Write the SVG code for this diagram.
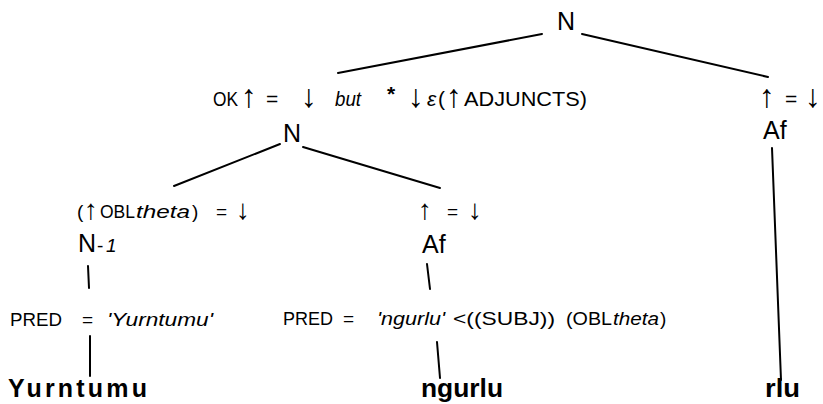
<svg xmlns="http://www.w3.org/2000/svg" width="823" height="404" viewBox="0 0 823 404">
<style>
text{font-family:"Liberation Sans",Arial,Helvetica,sans-serif;fill:#000}
.lab{font-size:21px}
.arr{font-size:32px}
.arr2{font-size:28px}
.node{font-size:25px}
.pred{font-size:19px}
.word{font-size:25px;font-weight:bold}
.it{font-style:italic}
.edge{stroke:#000;stroke-width:2;fill:none;stroke-linecap:round}
</style>
<rect width="823" height="404" fill="#fff"/>
<g id="connectors" class="edge">
<line x1="542" y1="34" x2="338" y2="73"/>
<line x1="582" y1="34" x2="768" y2="77"/>
<line x1="280" y1="144" x2="174" y2="186"/>
<line x1="303" y1="147" x2="440" y2="188"/>
<line x1="88" y1="266" x2="89" y2="288"/>
<line x1="427" y1="264" x2="430" y2="289"/>
<line x1="90" y1="336" x2="90" y2="376"/>
<line x1="437" y1="342" x2="440" y2="378"/>
<line x1="772" y1="148" x2="781" y2="380"/>
</g>
<g id="node-root">
<text class="node" x="566" y="30" text-anchor="middle">N</text>
</g>
<g id="node-adjunct-N">
<text class="lab" x="213" y="106" textLength="25" lengthAdjust="spacingAndGlyphs">OK</text>
<text class="arr" x="241" y="107">↑</text>
<text class="lab" x="266" y="106">=</text>
<text class="arr" x="301" y="107">↓</text>
<text class="lab it" x="335" y="106" textLength="26" lengthAdjust="spacingAndGlyphs">but</text>
<text class="lab" x="387" y="101" font-weight="bold" font-size="20">*</text>
<text class="arr" x="408" y="107">↓</text>
<text class="lab it" x="427" y="106">ε</text>
<text class="lab" x="438" y="106">(</text>
<text class="arr" x="446" y="107">↑</text>
<text class="lab" x="464" y="106" textLength="123" lengthAdjust="spacingAndGlyphs">ADJUNCTS)</text>
<text class="node" x="292" y="142" text-anchor="middle">N</text>
</g>
<g id="node-obl-N1">
<text class="pred" x="77" y="218">(</text>
<text class="arr2" x="84" y="219">↑</text>
<text class="pred" x="100" y="218" textLength="35" lengthAdjust="spacingAndGlyphs">OBL</text>
<text class="pred it" x="136" y="218" font-size="22" textLength="54" lengthAdjust="spacingAndGlyphs">theta</text>
<text class="pred" x="192" y="218">)</text>
<text class="pred" x="216" y="218">=</text>
<text class="arr2" x="236" y="219">↓</text>
<text class="node" x="78" y="252">N</text>
<text class="pred" x="97" y="252" font-size="16">-</text>
<text class="pred it" x="106" y="252" font-size="16">1</text>
</g>
<g id="node-pred-yurntumu">
<text class="pred" x="10" y="326" textLength="52" lengthAdjust="spacingAndGlyphs">PRED</text>
<text class="pred" x="82" y="326">=</text>
<text class="pred it" x="107" y="326" font-size="21" textLength="106" lengthAdjust="spacingAndGlyphs">'Yurntumu'</text>
</g>
<g id="node-af-mid">
<text class="arr2" x="418" y="219">↑</text>
<text class="pred" x="447" y="218">=</text>
<text class="arr2" x="468" y="219">↓</text>
<text class="node" x="422" y="253">Af</text>
</g>
<g id="node-pred-ngurlu">
<text class="pred" x="283" y="325" textLength="50" lengthAdjust="spacingAndGlyphs">PRED</text>
<text class="pred" x="343" y="325">=</text>
<text class="pred it" x="377" y="325" font-size="21" textLength="68" lengthAdjust="spacingAndGlyphs">'ngurlu'</text>
<text class="pred" x="453" y="325" font-size="20" textLength="102" lengthAdjust="spacingAndGlyphs">&lt;((SUBJ))</text>
<text class="pred" x="566" y="325" font-size="20" textLength="46" lengthAdjust="spacingAndGlyphs">(OBL</text>
<text class="pred it" x="613" y="325" font-size="21" textLength="46" lengthAdjust="spacingAndGlyphs">theta</text>
<text class="pred" x="660" y="325" font-size="20">)</text>
</g>
<g id="node-af-right">
<text class="arr" x="759" y="107">↑</text>
<text class="lab" x="785" y="106">=</text>
<text class="arr" x="805" y="107">↓</text>
<text class="node" x="763" y="139">Af</text>
</g>
<g id="word-yurntumu">
<text class="word" x="8" y="397" textLength="139">Yurntumu</text>
</g>
<g id="word-ngurlu">
<text class="word" x="421" y="397" textLength="82" lengthAdjust="spacingAndGlyphs">ngurlu</text>
</g>
<g id="word-rlu">
<text class="word" x="765" y="397" textLength="35" lengthAdjust="spacingAndGlyphs">rlu</text>
</g>
</svg>
